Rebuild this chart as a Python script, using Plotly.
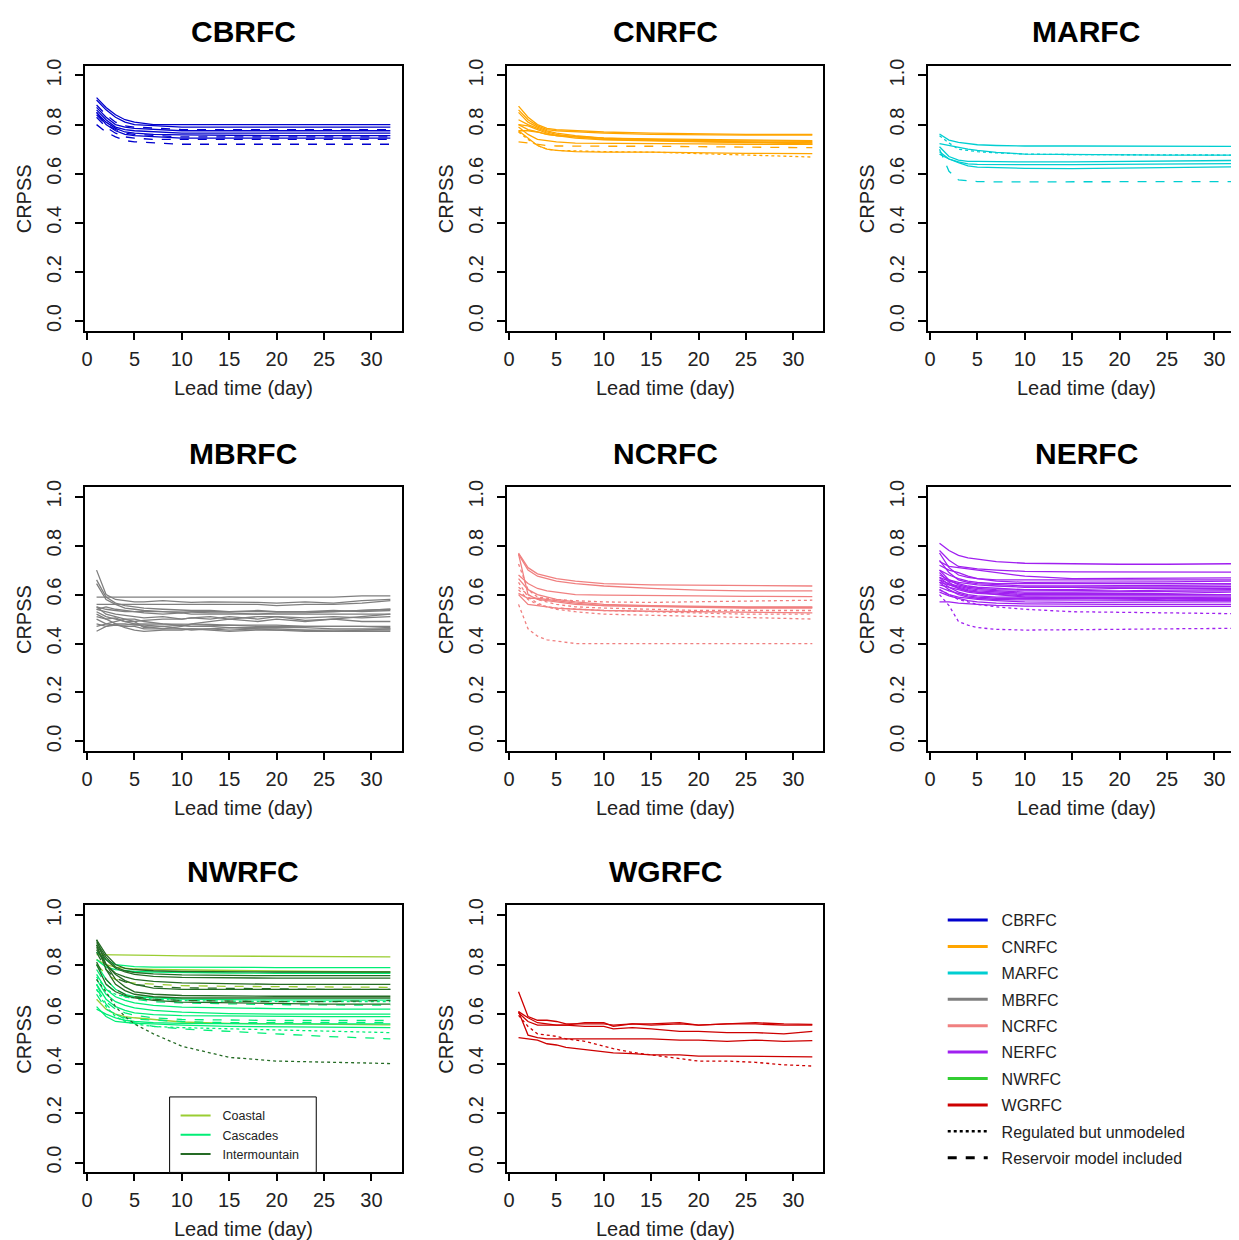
import plotly.graph_objects as go

# ---------------- data ----------------
DAYS = [1, 2, 3, 4, 5, 7, 10, 15, 20, 25, 32]
DAYS_FINE = [1, 2, 3, 4, 5, 6, 8, 10, 11, 13, 15, 18, 20, 23, 26, 29, 32]

X_TICKS = [0, 5, 10, 15, 20, 25, 30]
Y_TICKS = [0.0, 0.2, 0.4, 0.6, 0.8, 1.0]
Y_TICK_LABELS = ["0.0", "0.2", "0.4", "0.6", "0.8", "1.0"]

RFC_NAMES = ["CBRFC", "CNRFC", "MARFC", "MBRFC", "NCRFC", "NERFC", "NWRFC", "WGRFC"]
RFC_COLORS = ["#0000CD", "#FFA500", "#00CED1", "#7F7F7F", "#F08080", "#A020F0", "#32CD32", "#CD0000"]

NW_REGIONS = ["Coastal", "Cascades", "Intermountain"]
NW_REGION_COLORS = ["#9ACD32", "#00EE76", "#256B25"]

# kind: n = natural (solid), u = regulated but unmodeled (dotted), r = reservoir model included (dashed)
CBRFC_KIND = ["n", "n", "r", "n", "n", "n", "r", "n", "r", "r"]
CBRFC_CRPSS = [
    [0.91, 0.87, 0.84, 0.82, 0.81, 0.80, 0.80, 0.80, 0.80, 0.80, 0.80],
    [0.90, 0.86, 0.83, 0.81, 0.80, 0.795, 0.79, 0.79, 0.79, 0.79, 0.79],
    [0.88, 0.84, 0.81, 0.795, 0.79, 0.785, 0.78, 0.78, 0.78, 0.78, 0.78],
    [0.87, 0.83, 0.80, 0.79, 0.785, 0.78, 0.775, 0.775, 0.775, 0.775, 0.775],
    [0.86, 0.82, 0.79, 0.78, 0.775, 0.77, 0.765, 0.765, 0.765, 0.765, 0.765],
    [0.85, 0.81, 0.785, 0.77, 0.765, 0.76, 0.758, 0.755, 0.755, 0.755, 0.755],
    [0.84, 0.80, 0.78, 0.765, 0.76, 0.755, 0.75, 0.75, 0.75, 0.75, 0.75],
    [0.85, 0.80, 0.775, 0.76, 0.755, 0.75, 0.745, 0.745, 0.745, 0.745, 0.745],
    [0.83, 0.79, 0.765, 0.75, 0.745, 0.74, 0.74, 0.74, 0.74, 0.74, 0.74],
    [0.80, 0.77, 0.75, 0.735, 0.73, 0.725, 0.72, 0.72, 0.72, 0.72, 0.72],
]

CNRFC_KIND = ["n", "n", "n", "n", "n", "n", "n", "n", "u", "r", "n"]
CNRFC_CRPSS = [
    [0.875, 0.83, 0.80, 0.785, 0.78, 0.775, 0.77, 0.765, 0.762, 0.76, 0.76],
    [0.86, 0.82, 0.795, 0.78, 0.775, 0.77, 0.765, 0.76, 0.758, 0.757, 0.757],
    [0.85, 0.81, 0.79, 0.775, 0.765, 0.755, 0.745, 0.738, 0.735, 0.733, 0.732],
    [0.82, 0.80, 0.785, 0.77, 0.76, 0.75, 0.74, 0.735, 0.73, 0.728, 0.728],
    [0.80, 0.795, 0.78, 0.765, 0.755, 0.745, 0.738, 0.733, 0.73, 0.727, 0.725],
    [0.80, 0.78, 0.77, 0.76, 0.755, 0.75, 0.745, 0.74, 0.735, 0.73, 0.72],
    [0.775, 0.775, 0.77, 0.76, 0.755, 0.75, 0.745, 0.742, 0.74, 0.738, 0.735],
    [0.775, 0.745, 0.715, 0.70, 0.695, 0.69, 0.688, 0.688, 0.685, 0.683, 0.682],
    [0.77, 0.74, 0.715, 0.70, 0.695, 0.692, 0.69, 0.688, 0.682, 0.675, 0.668],
    [0.73, 0.725, 0.718, 0.715, 0.713, 0.712, 0.712, 0.712, 0.71, 0.71, 0.706],
    [0.79, 0.76, 0.74, 0.735, 0.73, 0.725, 0.725, 0.725, 0.722, 0.72, 0.72],
]

MARFC_KIND = ["n", "u", "n", "n", "n", "n", "r"]
MARFC_CRPSS = [
    [0.762, 0.737, 0.728, 0.722, 0.718, 0.715, 0.713, 0.713, 0.712, 0.712, 0.711],
    [0.755, 0.725, 0.70, 0.695, 0.69, 0.685, 0.68, 0.678, 0.678, 0.677, 0.676],
    [0.723, 0.715, 0.708, 0.70, 0.695, 0.687, 0.68, 0.678, 0.677, 0.676, 0.676],
    [0.71, 0.67, 0.655, 0.65, 0.65, 0.648, 0.648, 0.648, 0.65, 0.652, 0.654],
    [0.69, 0.66, 0.648, 0.64, 0.638, 0.637, 0.637, 0.637, 0.638, 0.64, 0.641],
    [0.68, 0.66, 0.645, 0.632, 0.627, 0.624, 0.622, 0.621, 0.623, 0.626, 0.628],
    [0.70, 0.61, 0.575, 0.57, 0.568, 0.567, 0.567, 0.568, 0.568, 0.569, 0.568],
]

MBRFC_KIND = ["n"] * 16
MBRFC_CRPSS = [
    [0.59, 0.59, 0.59, 0.59, 0.59, 0.59, 0.59, 0.588, 0.59, 0.588, 0.59, 0.59, 0.59, 0.588, 0.59, 0.595, 0.595],
    [0.70, 0.60, 0.58, 0.575, 0.57, 0.57, 0.575, 0.57, 0.568, 0.57, 0.57, 0.568, 0.565, 0.57, 0.565, 0.575, 0.58],
    [0.66, 0.59, 0.565, 0.555, 0.55, 0.545, 0.54, 0.535, 0.535, 0.535, 0.53, 0.535, 0.53, 0.53, 0.535, 0.53, 0.535],
    [0.645, 0.58, 0.56, 0.545, 0.54, 0.535, 0.53, 0.53, 0.528, 0.525, 0.525, 0.52, 0.525, 0.525, 0.53, 0.535, 0.54],
    [0.56, 0.56, 0.56, 0.56, 0.56, 0.56, 0.56, 0.56, 0.56, 0.56, 0.56, 0.56, 0.555, 0.56, 0.56, 0.565, 0.575],
    [0.55, 0.54, 0.535, 0.53, 0.53, 0.525, 0.52, 0.525, 0.52, 0.52, 0.52, 0.52, 0.52, 0.52, 0.52, 0.52, 0.52],
    [0.54, 0.53, 0.52, 0.515, 0.51, 0.505, 0.51, 0.50, 0.505, 0.50, 0.51, 0.50, 0.51, 0.495, 0.50, 0.49, 0.49],
    [0.53, 0.51, 0.50, 0.49, 0.48, 0.47, 0.46, 0.47, 0.48, 0.49, 0.50, 0.49, 0.50, 0.49, 0.50, 0.51, 0.52],
    [0.51, 0.50, 0.505, 0.49, 0.49, 0.495, 0.50, 0.50, 0.505, 0.51, 0.50, 0.51, 0.51, 0.505, 0.51, 0.505, 0.51],
    [0.48, 0.47, 0.48, 0.48, 0.475, 0.475, 0.47, 0.475, 0.47, 0.472, 0.475, 0.47, 0.47, 0.47, 0.47, 0.47, 0.47],
    [0.47, 0.48, 0.49, 0.50, 0.50, 0.49, 0.48, 0.475, 0.47, 0.47, 0.465, 0.465, 0.465, 0.465, 0.46, 0.46, 0.46],
    [0.45, 0.47, 0.475, 0.47, 0.47, 0.46, 0.46, 0.46, 0.455, 0.46, 0.465, 0.46, 0.46, 0.455, 0.455, 0.455, 0.455],
    [0.52, 0.50, 0.48, 0.465, 0.455, 0.45, 0.455, 0.455, 0.46, 0.455, 0.45, 0.455, 0.455, 0.45, 0.45, 0.45, 0.45],
    [0.54, 0.55, 0.54, 0.535, 0.53, 0.53, 0.53, 0.525, 0.53, 0.53, 0.53, 0.53, 0.53, 0.53, 0.53, 0.535, 0.54],
    [0.50, 0.48, 0.475, 0.475, 0.48, 0.48, 0.48, 0.48, 0.48, 0.478, 0.475, 0.475, 0.475, 0.47, 0.47, 0.47, 0.465],
    [0.55, 0.52, 0.51, 0.50, 0.49, 0.465, 0.47, 0.46, 0.46, 0.46, 0.455, 0.46, 0.455, 0.455, 0.45, 0.455, 0.46],
]

NCRFC_KIND = ["n", "n", "n", "n", "n", "n", "n", "u", "u", "u", "u", "u"]
NCRFC_CRPSS = [
    [0.77, 0.71, 0.685, 0.675, 0.665, 0.655, 0.645, 0.64, 0.638, 0.635, 0.635],
    [0.765, 0.70, 0.675, 0.665, 0.655, 0.645, 0.635, 0.625, 0.618, 0.615, 0.615],
    [0.68, 0.645, 0.625, 0.615, 0.61, 0.60, 0.598, 0.595, 0.595, 0.593, 0.592],
    [0.765, 0.60, 0.58, 0.575, 0.57, 0.56, 0.555, 0.552, 0.55, 0.548, 0.548],
    [0.665, 0.62, 0.60, 0.59, 0.58, 0.57, 0.56, 0.555, 0.552, 0.55, 0.55],
    [0.605, 0.585, 0.585, 0.58, 0.575, 0.565, 0.555, 0.55, 0.548, 0.545, 0.545],
    [0.60, 0.56, 0.555, 0.55, 0.545, 0.54, 0.535, 0.532, 0.53, 0.527, 0.525],
    [0.725, 0.62, 0.59, 0.585, 0.58, 0.575, 0.57, 0.568, 0.57, 0.572, 0.577],
    [0.63, 0.60, 0.58, 0.57, 0.56, 0.55, 0.545, 0.54, 0.535, 0.535, 0.535],
    [0.56, 0.46, 0.43, 0.415, 0.41, 0.40, 0.40, 0.40, 0.40, 0.40, 0.40],
    [0.65, 0.59, 0.565, 0.55, 0.54, 0.53, 0.52, 0.515, 0.51, 0.505, 0.50],
    [0.62, 0.58, 0.56, 0.55, 0.545, 0.54, 0.535, 0.53, 0.525, 0.52, 0.52],
]

NERFC_KIND = ["n"] * 21 + ["u", "u"]
NERFC_CRPSS = [
    [0.81, 0.78, 0.76, 0.75, 0.745, 0.735, 0.728, 0.725, 0.724, 0.724, 0.726],
    [0.78, 0.74, 0.715, 0.71, 0.705, 0.70, 0.695, 0.693, 0.692, 0.692, 0.692],
    [0.735, 0.715, 0.71, 0.705, 0.70, 0.69, 0.675, 0.665, 0.665, 0.665, 0.668],
    [0.77, 0.71, 0.68, 0.67, 0.665, 0.66, 0.66, 0.66, 0.66, 0.66, 0.66],
    [0.72, 0.70, 0.69, 0.675, 0.665, 0.655, 0.65, 0.65, 0.65, 0.652, 0.655],
    [0.70, 0.68, 0.665, 0.655, 0.65, 0.645, 0.645, 0.645, 0.645, 0.645, 0.645],
    [0.74, 0.69, 0.66, 0.65, 0.645, 0.64, 0.635, 0.635, 0.635, 0.638, 0.64],
    [0.68, 0.66, 0.65, 0.645, 0.64, 0.635, 0.63, 0.63, 0.63, 0.63, 0.632],
    [0.67, 0.655, 0.645, 0.635, 0.63, 0.625, 0.62, 0.62, 0.625, 0.625, 0.625],
    [0.70, 0.66, 0.64, 0.63, 0.625, 0.62, 0.618, 0.615, 0.615, 0.618, 0.62],
    [0.66, 0.645, 0.635, 0.625, 0.62, 0.615, 0.61, 0.61, 0.612, 0.612, 0.615],
    [0.65, 0.64, 0.63, 0.62, 0.615, 0.61, 0.605, 0.605, 0.605, 0.605, 0.61],
    [0.69, 0.65, 0.625, 0.615, 0.61, 0.605, 0.60, 0.60, 0.60, 0.60, 0.60],
    [0.64, 0.63, 0.62, 0.61, 0.605, 0.60, 0.595, 0.595, 0.595, 0.595, 0.595],
    [0.66, 0.63, 0.61, 0.60, 0.595, 0.59, 0.59, 0.588, 0.588, 0.588, 0.59],
    [0.63, 0.615, 0.605, 0.595, 0.59, 0.585, 0.583, 0.583, 0.583, 0.585, 0.585],
    [0.65, 0.62, 0.60, 0.59, 0.585, 0.58, 0.578, 0.578, 0.578, 0.578, 0.575],
    [0.62, 0.60, 0.59, 0.585, 0.58, 0.575, 0.57, 0.568, 0.568, 0.568, 0.57],
    [0.61, 0.595, 0.585, 0.575, 0.57, 0.565, 0.562, 0.56, 0.56, 0.56, 0.56],
    [0.57, 0.57, 0.565, 0.562, 0.56, 0.556, 0.553, 0.552, 0.552, 0.552, 0.552],
    [0.67, 0.64, 0.625, 0.615, 0.61, 0.60, 0.59, 0.585, 0.58, 0.578, 0.58],
    [0.62, 0.60, 0.58, 0.57, 0.56, 0.55, 0.54, 0.53, 0.528, 0.525, 0.522],
    [0.60, 0.555, 0.49, 0.475, 0.465, 0.458, 0.455, 0.455, 0.458, 0.46, 0.462],
]

NWRFC_REGION = (["Coastal"] * 4 + ["Cascades"] * 14 + ["Intermountain"] * 11)
NWRFC_KIND = (["n", "n", "n", "r"]
              + ["n", "n", "n", "r", "n", "n", "n", "r", "n", "n", "r", "u", "r", "u"]
              + ["n", "n", "n", "n", "r", "n", "n", "n", "r", "n", "u"])
NWRFC_CRPSS = [
    [0.84, 0.84, 0.84, 0.839, 0.838, 0.837, 0.835, 0.834, 0.833, 0.832, 0.831],
    [0.82, 0.80, 0.79, 0.785, 0.782, 0.78, 0.778, 0.776, 0.774, 0.772, 0.77],
    [0.66, 0.62, 0.60, 0.59, 0.585, 0.578, 0.568, 0.562, 0.56, 0.558, 0.556],
    [0.80, 0.76, 0.74, 0.73, 0.725, 0.72, 0.715, 0.712, 0.71, 0.71, 0.708],
    [0.85, 0.82, 0.80, 0.795, 0.792, 0.79, 0.789, 0.788, 0.788, 0.788, 0.788],
    [0.82, 0.79, 0.78, 0.775, 0.772, 0.77, 0.768, 0.766, 0.765, 0.765, 0.765],
    [0.80, 0.74, 0.70, 0.68, 0.67, 0.665, 0.66, 0.658, 0.657, 0.656, 0.656],
    [0.78, 0.72, 0.69, 0.67, 0.66, 0.65, 0.645, 0.64, 0.638, 0.637, 0.636],
    [0.76, 0.70, 0.67, 0.655, 0.645, 0.635, 0.628, 0.624, 0.622, 0.62, 0.62],
    [0.74, 0.68, 0.65, 0.635, 0.625, 0.615, 0.608, 0.602, 0.60, 0.60, 0.60],
    [0.72, 0.66, 0.63, 0.615, 0.605, 0.598, 0.594, 0.592, 0.59, 0.59, 0.59],
    [0.70, 0.65, 0.62, 0.605, 0.595, 0.585, 0.578, 0.575, 0.574, 0.574, 0.574],
    [0.62, 0.60, 0.585, 0.575, 0.57, 0.565, 0.562, 0.56, 0.56, 0.56, 0.56],
    [0.63, 0.59, 0.57, 0.565, 0.562, 0.56, 0.555, 0.55, 0.548, 0.546, 0.545],
    [0.72, 0.64, 0.60, 0.58, 0.565, 0.55, 0.54, 0.53, 0.52, 0.51, 0.50],
    [0.70, 0.63, 0.59, 0.57, 0.56, 0.55, 0.545, 0.54, 0.535, 0.53, 0.525],
    [0.68, 0.62, 0.60, 0.585, 0.58, 0.575, 0.57, 0.565, 0.565, 0.565, 0.565],
    [0.75, 0.70, 0.68, 0.67, 0.665, 0.66, 0.655, 0.652, 0.65, 0.65, 0.65],
    [0.90, 0.84, 0.80, 0.785, 0.78, 0.775, 0.772, 0.77, 0.77, 0.77, 0.77],
    [0.89, 0.83, 0.79, 0.775, 0.768, 0.762, 0.758, 0.755, 0.755, 0.755, 0.755],
    [0.88, 0.82, 0.785, 0.77, 0.76, 0.752, 0.748, 0.745, 0.745, 0.745, 0.745],
    [0.86, 0.80, 0.765, 0.75, 0.74, 0.732, 0.726, 0.722, 0.72, 0.72, 0.72],
    [0.85, 0.78, 0.745, 0.73, 0.72, 0.712, 0.706, 0.703, 0.702, 0.70, 0.70],
    [0.87, 0.80, 0.76, 0.735, 0.72, 0.705, 0.70, 0.70, 0.70, 0.70, 0.70],
    [0.90, 0.80, 0.74, 0.71, 0.69, 0.68, 0.675, 0.672, 0.672, 0.672, 0.672],
    [0.88, 0.78, 0.72, 0.695, 0.68, 0.67, 0.665, 0.665, 0.665, 0.665, 0.665],
    [0.81, 0.74, 0.70, 0.68, 0.67, 0.66, 0.655, 0.652, 0.65, 0.65, 0.655],
    [0.80, 0.72, 0.69, 0.675, 0.665, 0.655, 0.648, 0.645, 0.642, 0.64, 0.64],
    [0.74, 0.69, 0.63, 0.59, 0.56, 0.52, 0.47, 0.425, 0.41, 0.405, 0.40],
]

WGRFC_KIND = ["n", "n", "n", "n", "n", "u"]
WGRFC_CRPSS = [
    [0.69, 0.59, 0.575, 0.575, 0.57, 0.56, 0.56, 0.56, 0.555, 0.56, 0.555, 0.56, 0.555, 0.56, 0.565, 0.56, 0.558],
    [0.61, 0.585, 0.565, 0.56, 0.555, 0.555, 0.565, 0.565, 0.55, 0.56, 0.56, 0.565, 0.555, 0.56, 0.56, 0.555, 0.555],
    [0.605, 0.57, 0.555, 0.555, 0.555, 0.555, 0.55, 0.55, 0.54, 0.545, 0.54, 0.53, 0.53, 0.525, 0.525, 0.52, 0.53],
    [0.61, 0.515, 0.505, 0.50, 0.50, 0.50, 0.50, 0.50, 0.50, 0.50, 0.50, 0.495, 0.495, 0.49, 0.495, 0.49, 0.493],
    [0.505, 0.50, 0.495, 0.48, 0.475, 0.465, 0.455, 0.445, 0.443, 0.44, 0.435, 0.435, 0.43, 0.43, 0.43, 0.43, 0.427],
    [0.595, 0.55, 0.52, 0.515, 0.51, 0.50, 0.49, 0.47, 0.46, 0.445, 0.435, 0.42, 0.41, 0.41, 0.405, 0.395, 0.39],
]

KIND_LABELS = ["Regulated but unmodeled", "Reservoir model included"]

# ---------------- figure ----------------
OFF = 8                      # page body margin: figure starts 8 px into the window
W, H = 1239 - OFF, 1240 - OFF
FONT = "Liberation Sans, Arial, Helvetica, sans-serif"
DASH = {"n": "solid", "u": "dot", "r": "dash"}
NB = "\u00a0"


def px(xp):
    return (xp - OFF) / W


def py(yp):
    return 1 - (yp - OFF) / H


# panel boxes in window pixels: (left, right), (top, bottom)
COLS = [(82, 400), (505, 822), (927, 1239)]
ROWS = [(59, 326), (483, 749), (904, 1173)]
PX_PER_DAY = 9.5

panels = [
    ("CBRFC", DAYS, CBRFC_CRPSS, CBRFC_KIND, None),
    ("CNRFC", DAYS, CNRFC_CRPSS, CNRFC_KIND, None),
    ("MARFC", DAYS, MARFC_CRPSS, MARFC_KIND, None),
    ("MBRFC", DAYS_FINE, MBRFC_CRPSS, MBRFC_KIND, None),
    ("NCRFC", DAYS, NCRFC_CRPSS, NCRFC_KIND, None),
    ("NERFC", DAYS, NERFC_CRPSS, NERFC_KIND, None),
    ("NWRFC", DAYS, NWRFC_CRPSS, NWRFC_KIND, NWRFC_REGION),
    ("WGRFC", DAYS_FINE, WGRFC_CRPSS, WGRFC_KIND, None),
]

fig = go.Figure()
layout = dict(
    width=W, height=H, margin=dict(l=0, r=0, t=0, b=0),
    paper_bgcolor="white", plot_bgcolor="white",
    font=dict(family=FONT, color="black"),
    showlegend=True,
)
annotations = []

for i, (name, days, vals, kinds, regions) in enumerate(panels):
    r, c = divmod(i, 3)
    (xl, xr), (yt, yb) = COLS[c], ROWS[r]
    ax = "" if i == 0 else str(i + 1)
    color = RFC_COLORS[RFC_NAMES.index(name)]
    for j, series in enumerate(vals):
        col = color
        if regions is not None:
            col = NW_REGION_COLORS[NW_REGIONS.index(regions[j])]
        fig.add_trace(go.Scatter(
            x=days, y=series, mode="lines",
            line=dict(color=col, width=1.3, dash=DASH[kinds[j]]),
            xaxis="x" + ax, yaxis="y" + ax, showlegend=False, hoverinfo="skip",
        ))
    x0 = -0.24
    x1 = x0 + (xr - xl) / PX_PER_DAY
    is_cut = (c == 2)
    layout["xaxis" + ax] = dict(
        domain=[px(xl), min(1.0, px(xr))], range=[x0, x1], anchor="y" + ax,
        tickvals=X_TICKS, ticks="outside", ticklen=7, tickwidth=1.5, tickcolor="black",
        ticklabelstandoff=2,
        showline=True, linecolor="black", linewidth=2, mirror=True,
        showgrid=False, zeroline=False,
        tickfont=dict(size=20, family=FONT, color="#222"),
    )
    layout["yaxis" + ax] = dict(
        domain=[py(yb), py(yt)], range=[-0.04, 1.04], anchor="x" + ax,
        tickvals=Y_TICKS, ticktext=Y_TICK_LABELS, tickangle=-90,
        ticks="outside", ticklen=8, tickwidth=1.5, tickcolor="black",
        ticklabelstandoff=6,
        showline=True, linecolor="black", linewidth=2, mirror=not is_cut,
        showgrid=False, zeroline=False,
        tickfont=dict(size=20, family=FONT, color="#222"),
    )
    cx = xl + 159
    annotations.append(dict(text="<b>%s</b>" % name, x=px(cx), y=py(yt - 34),
                            xref="paper", yref="paper", showarrow=False,
                            font=dict(size=30, family=FONT, color="black"),
                            xanchor="center", yanchor="middle"))
    annotations.append(dict(text="Lead time (day)", x=px(cx), y=py(yb + 57),
                            xref="paper", yref="paper", showarrow=False,
                            font=dict(size=20, family=FONT, color="#222"),
                            xanchor="center", yanchor="middle"))
    annotations.append(dict(text="CRPSS", x=px(xl - 61), y=py((yt + yb) / 2),
                            xref="paper", yref="paper", showarrow=False, textangle=-90,
                            font=dict(size=20, family=FONT, color="#222"),
                            xanchor="center", yanchor="middle"))

# main legend (bottom-right)
for k, name in enumerate(RFC_NAMES):
    fig.add_trace(go.Scatter(x=[None], y=[None], mode="lines", name=NB * 2 + name,
                             line=dict(color=RFC_COLORS[k], width=3),
                             legend="legend", legendgroup="g%d" % k))
fig.add_trace(go.Scatter(x=[None], y=[None], mode="lines", name=NB * 2 + KIND_LABELS[0],
                         line=dict(color="black", width=2.5, dash="dot"),
                         legend="legend", legendgroup="gu"))
fig.add_trace(go.Scatter(x=[None], y=[None], mode="lines", name=NB * 2 + KIND_LABELS[1],
                         line=dict(color="black", width=3, dash="dash"),
                         legend="legend", legendgroup="gr"))

# NWRFC sub-region legend
for k, reg in enumerate(NW_REGIONS):
    fig.add_trace(go.Scatter(x=[None], y=[None], mode="lines", name=NB * 2 + reg,
                             line=dict(color=NW_REGION_COLORS[k], width=2),
                             legend="legend2"))

layout["legend"] = dict(x=px(942), y=py(902), xanchor="left", yanchor="top",
                        font=dict(size=16, family=FONT, color="#222"),
                        bgcolor="rgba(0,0,0,0)", tracegroupgap=2.6, itemwidth=40)
layout["legend2"] = dict(x=px(173), y=py(1101), xanchor="left", yanchor="top",
                         font=dict(size=12.5, family=FONT, color="#222"),
                         bgcolor="rgba(0,0,0,0)", itemwidth=30)
layout["shapes"] = [dict(type="rect", xref="paper", yref="paper",
                         x0=px(167), x1=px(314), y0=py(1173), y1=py(1097),
                         line=dict(color="black", width=1), fillcolor="white", layer="above")]
layout["annotations"] = annotations
fig.update_layout(**layout)
fig.write_html("out.html")
